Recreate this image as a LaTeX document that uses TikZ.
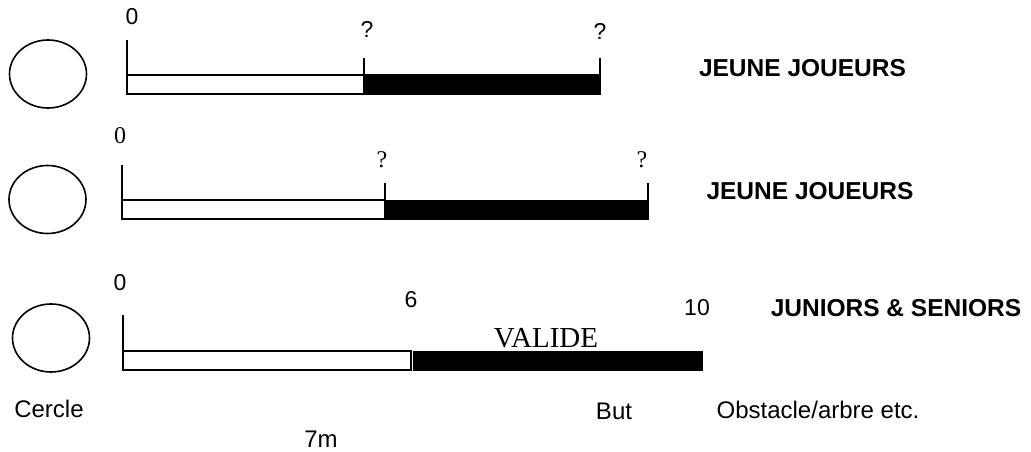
\documentclass[tikz,border=0pt]{standalone}
\usepackage{fontspec}
\setmainfont{Liberation Serif}
\setsansfont{Liberation Sans}
\usetikzlibrary{shapes.geometric}
\begin{document}
\begin{tikzpicture}[x=1pt,y=-1pt,
  ring/.style={ellipse,draw,line width=1.6pt,minimum width=77pt,minimum height=68pt,inner sep=0pt},
  barline/.style={draw,line width=1.8pt},
  solidbar/.style={fill=black,draw=black,line width=1pt},
  tick/.style={line width=1.8pt},
  sansnum/.style={anchor=base,inner sep=0pt,font=\fontsize{23}{26}\selectfont\sffamily},
  serifnum/.style={anchor=base,inner sep=0pt,font=\fontsize{24}{27}\selectfont\rmfamily},
  title/.style={anchor=base,inner sep=0pt,font=\fontsize{24.5}{28}\selectfont\sffamily\bfseries},
  caption/.style={anchor=base,inner sep=0pt,font=\fontsize{24}{28}\selectfont\sffamily},
  bigserif/.style={anchor=base,inner sep=0pt,font=\fontsize{29}{32}\selectfont\rmfamily}]
\useasboundingbox (0,0) rectangle (1031,452);

% Row 1
\node[ring] (c1) at (48,74) {};
\draw[barline,fill=white] (127,75) rectangle (364,94);
\draw[solidbar] (364,75) rectangle (600,94);
\draw[tick] (127,40) -- (127,94);
\draw[tick] (364,58) -- (364,75);
\draw[tick] (600,58) -- (600,75);
\node[sansnum] (z1) at (132,25) {0};
\node[sansnum] (q1a) at (367,38) {?};
\node[sansnum] (q1b) at (600,40) {?};
\node[title] (t1) at (802.5,77) {JEUNE JOUEURS};

% Row 2
\node[ring] (c2) at (47.5,199.5) {};
\draw[barline,fill=white] (122,200) rectangle (385,219);
\draw[solidbar] (385,200) rectangle (648,219);
\draw[tick] (122,165) -- (122,219);
\draw[tick] (385,183) -- (385,200);
\draw[tick] (648,183) -- (648,200);
\node[serifnum] (z2) at (120,143) {0};
\node[serifnum] (q2a) at (382,167) {?};
\node[serifnum] (q2b) at (642,167) {?};
\node[title] (t2) at (810,199) {JEUNE JOUEURS};

% Row 3
\node[ring] (c3) at (51,338) {};
\draw[barline,fill=white] (123,351) rectangle (411,370);
\draw[solidbar] (413,351) rectangle (702,370);
\draw[tick] (123,315) -- (123,370);
\node[sansnum] (z3) at (120,290) {0};
\node[sansnum] (s6) at (411,307) {6};
\node[sansnum] (s10) at (697,315) {10};
\node[bigserif] (val) at (546,347) {VALIDE};
\node[title] (t3) at (896,316) {JUNIORS \& SENIORS};

% Captions
\node[caption] (cer) at (49,417) {Cercle};
\node[caption] (but) at (614,419) {But};
\node[caption] (obs) at (818,418) {Obstacle/arbre etc.};
\node[caption] (sept) at (321,447) {7m};
\end{tikzpicture}
\end{document}
